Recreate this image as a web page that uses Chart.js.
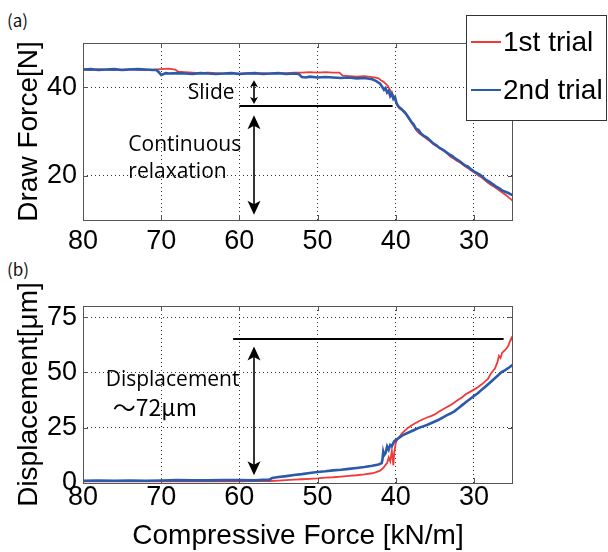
<!DOCTYPE html>
<html><head><meta charset="utf-8">
<script src="https://cdn.jsdelivr.net/npm/chart.js@4/dist/chart.umd.min.js"></script>
<style>
html,body{margin:0;padding:0;background:#fff;width:608px;height:552px;overflow:hidden}
#c1{position:absolute;left:0;top:0}
#c2{position:absolute;left:0;top:260px}
.lab{position:absolute;font-family:"Noto Sans CJK JP",sans-serif;font-size:17px;line-height:17px;color:#111}
</style></head><body>
<div class="lab" style="left:7px;top:11px">(a)</div>
<div class="lab" style="left:7px;top:260px">(b)</div>
<canvas id="c1" width="608" height="260"></canvas>
<canvas id="c2" width="608" height="292"></canvas>
<script>
// ---- data ----
const seriesNames = ['1st trial', '2nd trial'];
const xTicks = [30, 40, 50, 60, 70, 80];
const yTicksTop = [20, 40];
const yTicksBottom = [0, 25, 50, 75];

// (a) Draw force vs compressive force
const forceTop1 = [80,79,78,77,76,75,74,73,72,71,
 70,69,68.2,67.8,67,66,65,64,63,62,
 61,60,59,58,57,56,55,54,53,52,
 51,50,49,48,47.2,46.8,46,45,44,43.5,
 43,42.6,42.2,41.9,41.6,41.3,41.0,40.8,40.6,40.4,
 40.2,40.0,39.8,39.5,39.2,38.9,38.7,38.5,38.2,37.9,
 37.6,37.3,37.0,36.6,36.2,35.8,35.4,35.0,34.6,34.2,
 33.8,33.4,33.0,32.6,32.2,31.8,31.4,31.0,30.6,30.2,
 29.8,29.4,29.0,28.6,28.2,27.8,27.4,27.0,26.6,26.2,
 25.8,25.5,25.2,25.0];
const drawForce1 = [44.0,43.9,44.1,44.0,43.9,44.0,44.1,44.0,43.9,44.0,
 44.1,44.2,44.0,43.5,43.4,43.3,43.2,43.3,43.2,43.1,
 43.2,43.1,43.2,43.1,43.2,43.1,43.2,43.2,43.3,43.3,
 43.4,43.3,43.4,43.3,43.3,42.6,42.5,42.4,42.5,42.4,
 42.3,42.2,42.0,41.6,41.3,40.8,40.3,39.6,39.0,38.4,
 37.6,36.8,35.8,35.2,34.8,34.6,34.2,33.4,32.6,31.7,
 31.0,30.1,29.6,29.1,28.6,28.0,27.5,26.9,26.5,26.0,
 25.7,25.0,24.3,23.9,23.4,23.0,22.5,22.0,21.5,21.0,
 20.6,20.0,19.6,19.0,18.4,17.9,17.5,17.0,16.5,16.0,
 15.5,15.0,14.6,14.3];
const forceTop2 = [80,79,78,77,76,75,74,73,72,71,
 70.6,70.3,70.0,69.7,69.4,69,
 68,67,66,65,64,63,62,61,60,59,58,57,56,55,54,53,
 52.4,52.0,51.5,51,50,49,48,47,46,45,44,43,42.5,42.0,
 41.7,41.5,41.3,41.1,40.9,40.7,40.5,40.3,40.1,39.9,39.7,39.5,
 39.2,38.9,38.6,38.3,38.0,37.7,37.4,37.1,36.8,
 36.4,36.0,35.6,35.2,34.8,34.4,34.0,33.6,33.2,32.8,32.4,32.0,31.6,31.2,30.8,
 30.4,30.0,29.6,29.2,28.8,28.4,28.0,27.6,27.2,26.8,26.4,26.0,25.6,25.3,25.0];
const drawForce2 = [44.0,44.1,43.9,44.0,44.1,43.9,44.0,44.1,44.0,43.9,
 43.9,43.4,42.8,43.0,43.2,43.1,
 43.2,43.1,43.0,43.2,43.1,43.0,43.1,43.2,43.0,43.1,43.2,43.0,43.1,43.2,43.0,43.1,
 43.0,42.3,42.2,42.4,42.2,42.3,42.2,42.1,42.2,42.0,42.1,41.8,41.4,40.8,
 40.0,39.4,39.8,38.8,39.2,38.0,38.6,37.4,37.8,36.4,35.8,35.4,
 35.0,34.4,33.8,33.0,32.2,31.6,30.6,30.4,29.6,
 29.0,28.6,28.0,27.3,26.9,26.3,25.9,25.4,24.9,24.5,23.9,23.5,23.0,22.4,22.1,
 21.5,21.0,20.6,20.2,19.6,19.0,18.6,18.1,17.6,17.2,16.7,16.4,16.1,15.8,15.6];

// (b) Displacement vs compressive force
const forceBot1 = [80,78,76,74,72,70,68,66,64,62,
 60,58,56,55,54,53,52,51,50,49,
 48,47,46,45,44,43,42.5,42,41.6,41.3,
 41.1,40.9,40.7,40.5,40.3,40.2,40.0,39.8,39.5,39.2,
 38.8,38.4,38.0,37.5,37.0,36.5,36.0,35.5,35.0,34.5,
 34.0,33.5,33.0,32.5,32.0,31.5,31.0,30.5,30.0,29.5,
 29.0,28.6,28.2,27.9,27.6,27.3,27.0,26.8,26.6,26.4,
 26.2,26.0,25.8,25.6,25.4,25.2,25.0];
const displacement1 = [0.8,0.9,0.7,0.8,0.9,0.7,0.8,0.9,0.8,0.9,
 0.8,0.9,0.9,1.1,1.3,1.5,1.7,1.9,2.1,2.4,
 2.6,2.9,3.2,3.5,3.9,4.4,4.9,5.6,6.8,8.2,
 9.0,11.5,9.8,14.6,8.0,13.5,18.0,19.8,21.0,22.4,
 23.8,25.0,26.0,27.0,28.0,28.8,29.6,30.2,31.0,32.2,
 33.2,34.2,35.2,36.4,37.6,38.8,40.2,41.2,42.2,43.3,
 44.6,45.8,47.0,49.0,50.5,51.8,54.5,57.5,56.5,58.8,
 59.5,60.2,61.0,62.0,64.0,65.6,64.0];
const forceBot2 = [80,78,76,74,72,70,68,66,64,62,
 60,58,57,56.2,55.8,55,54,53,52,51,
 50,49,48,47,46,45,44,43,42.2,41.8,
 41.7,41.6,41.5,41.3,41.1,40.9,40.7,40.5,40.2,40.0,
 39.5,39.0,38.5,38.0,37.5,37.0,36.5,36.0,35.5,35.0,
 34.5,34.0,33.5,33.0,32.5,32.0,31.5,31.0,30.5,30.0,
 29.5,29.0,28.5,28.0,27.5,27.0,26.5,26.0,25.5,25.0];
const displacement2 = [1.0,1.1,1.0,1.1,1.0,1.1,1.3,1.2,1.2,1.3,
 1.3,1.2,1.4,1.4,2.3,2.7,3.1,3.6,4.0,4.5,
 5.0,5.3,5.7,6.0,6.4,6.8,7.2,7.8,8.4,9.0,
 10.5,14.0,12.5,13.5,16.5,15.0,17.2,16.6,18.8,19.4,
 20.6,21.8,22.6,23.4,24.2,25.0,25.6,26.2,27.0,27.8,
 28.6,29.6,30.6,31.4,32.4,33.8,35.2,36.6,38.0,39.3,
 40.6,42.2,43.6,45.2,46.8,48.4,50.0,51.0,52.2,53.5];

// ---- annotations (data coordinates) ----
const annTop = {
  hline: {x1: 60, x2: 40.4, y: 35.8},
  slideArrow: {x: 58.1, y1: 41.6, y2: 36.2, head: [8, 7]},
  relaxArrow: {x: 58.1, y1: 33.7, y2: 11.2, head: [13, 14]},
  texts: [
    {t: 'Slide', x: 66.6, y: 38.7},
    {t: 'Continuous', x: 74.2, y: 27.0},
    {t: 'relaxation', x: 74.2, y: 20.9}
  ]
};
const annBot = {
  hline: {x1: 60.8, x2: 26.2, y: 65.2},
  arrows: [{x: 58.1, y1: 61.7, y2: 3.5, head: [13, 14]}],
  texts: [
    {t: 'Displacement', x: 77.1, y: 46.7},
    {t: '〜72μm', x: 76.2, y: 34.4, cjk: true}
  ]
};

// ---- styles ----
const RED = '#f03a3a', BLUE = '#2c5aab';
const FONT = '"Liberation Sans", Arial, Helvetica, sans-serif';
const AFONT = '"Open Sans", "Noto Sans", sans-serif';

function pts(xs, ys) { return xs.map((x, i) => ({x: x, y: ys[i]})); }

function drawArrow(ctx, x, ya, yb, hw, hl) {
  ctx.beginPath(); ctx.moveTo(x, ya + hl * 0.6); ctx.lineTo(x, yb - hl * 0.6); ctx.stroke();
  ctx.beginPath(); ctx.moveTo(x, ya); ctx.lineTo(x - hw / 2, ya + hl); ctx.lineTo(x, ya + hl * 0.75); ctx.lineTo(x + hw / 2, ya + hl); ctx.closePath(); ctx.fill();
  ctx.beginPath(); ctx.moveTo(x, yb); ctx.lineTo(x - hw / 2, yb - hl); ctx.lineTo(x, yb - hl * 0.75); ctx.lineTo(x + hw / 2, yb - hl); ctx.closePath(); ctx.fill();
}

const framePlugin = {
  id: 'frame',
  afterDatasetsDraw(chart) {
    const {ctx, chartArea: a, scales} = chart;
    ctx.save();
    ctx.strokeStyle = '#555'; ctx.lineWidth = 1;
    ctx.strokeRect(Math.round(a.left) + 0.5, Math.round(a.top) + 0.5, Math.round(a.right - a.left) - 1, Math.round(a.bottom - a.top));
    ctx.beginPath();
    scales.x.ticks.forEach(t => {
      const p = Math.round(scales.x.getPixelForValue(t.value)) + 0.5;
      ctx.moveTo(p, a.bottom); ctx.lineTo(p, a.bottom - 5);
      ctx.moveTo(p, a.top); ctx.lineTo(p, a.top + 5);
    });
    scales.y.ticks.forEach(t => {
      const p = Math.round(scales.y.getPixelForValue(t.value)) + 0.5;
      ctx.moveTo(a.left, p); ctx.lineTo(a.left + 5, p);
      ctx.moveTo(a.right, p); ctx.lineTo(a.right - 5, p);
    });
    ctx.stroke();
    // annotations
    const ann = chart.options.plugins.frame.ann;
    const X = v => scales.x.getPixelForValue(v), Y = v => scales.y.getPixelForValue(v);
    ctx.strokeStyle = '#000'; ctx.fillStyle = '#000'; ctx.lineWidth = 2;
    const h = ann.hline;
    ctx.beginPath(); ctx.moveTo(X(h.x1), Math.round(Y(h.y))); ctx.lineTo(X(h.x2), Math.round(Y(h.y))); ctx.stroke();
    const arrows = ann.arrows || [ann.slideArrow, ann.relaxArrow];
    ctx.lineWidth = 1.6;
    arrows.forEach(ar => drawArrow(ctx, Math.round(X(ar.x)), Y(ar.y1), Y(ar.y2), ar.head[0], ar.head[1]));
    ctx.textBaseline = 'middle'; ctx.textAlign = 'left';
    ann.texts.forEach(tx => {
      ctx.font = tx.cjk ? '23px "Noto Sans CJK JP", sans-serif' : '21px ' + AFONT;
      ctx.fillText(tx.t, X(tx.x), Y(tx.y));
    });
    ctx.restore();
  },
  afterDraw(chart) {
    if (!chart.options.plugins.frame.legend) return;
    const ctx = chart.ctx;
    ctx.save();
    ctx.fillStyle = '#fff'; ctx.fillRect(466, 15, 142, 106);
    ctx.strokeStyle = '#333'; ctx.lineWidth = 1; ctx.strokeRect(466.5, 15.5, 140, 105);
    const ys = [42, 90];
    chart.data.datasets.forEach((ds, i) => {
      ctx.strokeStyle = ds.borderColor; ctx.lineWidth = 2;
      ctx.beginPath(); ctx.moveTo(471, ys[i]); ctx.lineTo(501, ys[i]); ctx.stroke();
      ctx.fillStyle = '#000'; ctx.font = '28px ' + FONT; ctx.textBaseline = 'middle'; ctx.textAlign = 'left';
      ctx.fillText(ds.label, 503, ys[i] + 1);
    });
    ctx.restore();
  }
};

function makeChart(id, d1, d2, yMin, yMax, yTicks, yTitle, opt) {
  return new Chart(document.getElementById(id), {
    type: 'line',
    data: {datasets: [
      {label: seriesNames[0], data: d1, borderColor: RED, borderWidth: 1.8, pointRadius: 0, tension: 0, order: 2},
      {label: seriesNames[1], data: d2, borderColor: BLUE, borderWidth: 2.6, pointRadius: 0, tension: 0, order: 1}
    ]},
    options: {
      responsive: false, animation: false, devicePixelRatio: 1,
      layout: {padding: {left: 0, right: 95, top: opt.top, bottom: 0}},
      plugins: {legend: {display: false}, tooltip: {enabled: false},
        frame: {ann: opt.ann, legend: opt.legend}},
      scales: {
        x: {type: 'linear', min: 25, max: 80, reverse: true,
          afterBuildTicks: s => { s.ticks = xTicks.map(v => ({value: v})); },
          afterFit: s => { s.height = opt.xh; },
          grid: {color: '#333', lineWidth: 1, drawTicks: false},
          border: {display: false, dash: [1, 3]},
          ticks: {color: '#000', font: {family: FONT, size: 27}, padding: opt.xpad, maxRotation: 0},
          title: {display: !!opt.xTitle, text: opt.xTitle || '', color: '#000',
            font: {family: FONT, size: 28, lineHeight: 1.1}, padding: 0}
        },
        y: {type: 'linear', min: yMin, max: yMax,
          afterBuildTicks: s => { s.ticks = yTicks.map(v => ({value: v})); },
          afterFit: s => { s.width = 83; },
          grid: {color: '#333', lineWidth: 1, drawTicks: false},
          border: {display: false, dash: [1, 3]},
          ticks: {color: '#000', font: {family: FONT, size: 27}, padding: 6},
          title: {display: true, text: yTitle, color: '#000',
            font: {family: FONT, size: 28, lineHeight: 1.2}, padding: {top: 12, bottom: 0}}
        }
      }
    },
    plugins: [framePlugin]
  });
}

makeChart('c1', pts(forceTop1, drawForce1), pts(forceTop2, drawForce2), 10, 50, yTicksTop, 'Draw Force[N]',
  {top: 43, xh: 40, xpad: 5, ann: annTop, legend: true});
makeChart('c2', pts(forceBot1, displacement1), pts(forceBot2, displacement2), 0, 80, yTicksBottom, 'Displacement[μm]',
  {top: 46, xh: 69, xpad: -2, xTitle: 'Compressive Force [kN/m]', ann: annBot, legend: false});
</script>
</body></html>
